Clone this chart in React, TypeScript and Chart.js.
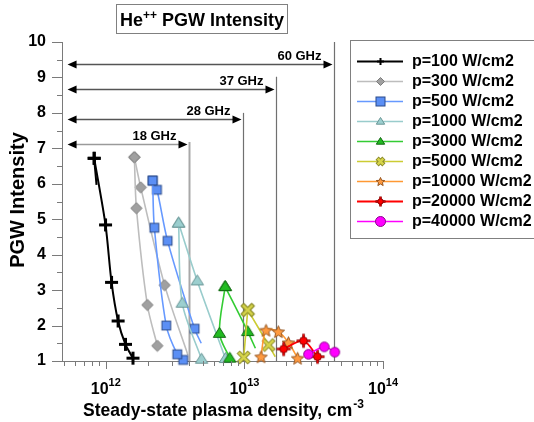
import React, { useEffect, useRef } from 'react';
import { Chart, registerables } from 'chart.js';

Chart.register(...registerables);

// ---------- data (density cm^-3, PGW intensity) in drawing order ----------
const P100_N = [8.57e11, 8.24e11, 9.95e11, 1.10e12, 1.226e12, 1.386e12, 1.571e12];
const P100_I = [5.97, 6.72, 4.84, 3.22, 2.13, 1.47, 1.08];
const P100_APEX = 1;
const P100_BARE = [0];

const P300_N = [2.354e12, 1.995e12, 1.663e12, 1.607e12, 1.786e12, 2.657e12, 3.91e12];
const P300_I = [1.43, 2.58, 5.31, 6.75, 5.90, 3.14, 1.17];
const P300_APEX = 3;
const P300_BARE = [6];

const P500_N = [3.62e12, 3.28e12, 2.73e12, 2.24e12, 2.178e12, 2.339e12, 2.79e12, 4.37e12, 4.88e12];
const P500_I = [1.03, 1.19, 2.0, 4.76, 6.09, 5.83, 4.39, 1.91, 1.50];
const P500_APEX = 4;
const P500_BARE = [8];

const P1000_N = [4.91e12, 3.56e12, 3.35e12, 4.57e12, 7.3e12];
const P1000_I = [1.05, 2.63, 4.89, 3.26, 1.07];
const P1000_APEX = 2;
const P1000_BARE: number[] = [];

const P3000_N = [7.84e12, 6.61e12, 7.26e12, 1.057e13, 1.2e13];
const P3000_I = [1.08, 1.78, 3.10, 1.83, 1.36];
const P3000_APEX = 2;
const P3000_BARE = [4];

const P5000_N = [9.89e12, 1.057e13, 1.496e13, 1.67e13];
const P5000_I = [1.10, 2.44, 1.45, 1.12];
const P5000_APEX = 1;
const P5000_BARE = [3];

const P10000_N = [1.318e13, 1.433e13, 1.757e13, 2.08e13, 2.42e13];
const P10000_I = [1.12, 1.87, 1.83, 1.52, 1.08];
const P10000_APEX = -1;
const P10000_BARE: number[] = [];

const P20000_N = [1.919e13, 2.67e13, 3.37e13];
const P20000_I = [1.34, 1.57, 1.12];
const P20000_APEX = -1;
const P20000_BARE: number[] = [];

const P40000_N = [2.90e13, 3.77e13, 4.49e13];
const P40000_I = [1.19, 1.40, 1.25];
const P40000_APEX = -1;
const P40000_BARE: number[] = [];

const LEGEND_LABELS = [
  'p=100 W/cm2', 'p=300 W/cm2', 'p=500 W/cm2', 'p=1000 W/cm2', 'p=3000 W/cm2',
  'p=5000 W/cm2', 'p=10000 W/cm2', 'p=20000 W/cm2', 'p=40000 W/cm2',
];

// frequency bands: cut-off densities and annotation heights
const BAND_LABELS = ['18 GHz', '28 GHz', '37 GHz', '60 GHz'];
const BAND_DENSITY = [4.0e12, 9.7e12, 1.7e13, 4.46e13];
const BAND_ARROW_Y = [7.11, 7.82, 8.66, 9.39];
const BAND_LINE_TOP = [7.18, 8.0, 9.02, 10];
const ARROW_START = 5.3e11;

const X_MIN = 4.83e11;
const X_MAX = 1e14;
const Y_MIN = 1;
const Y_MAX = 10;
const X_EXPONENTS = [12, 13, 14];

const FONT = '"Liberation Sans", Arial, Helvetica, sans-serif';

type Style = { kind: string; fill: string; stroke: string; r: number; lr: number; line: string; lw: number };

const STYLES: Style[] = [
  { kind: 'plus', fill: '#000', stroke: '#000', r: 6.5, lr: 3.5, line: '#000000', lw: 2 },
  { kind: 'diamond', fill: '#a0a0a0', stroke: '#7c7c7c', r: 5.6, lr: 4, line: '#bdbdbd', lw: 1.6 },
  { kind: 'square', fill: '#5b8ff5', stroke: '#2a4a8a', r: 4.4, lr: 4.5, line: '#6699ff', lw: 1.6 },
  { kind: 'triangle', fill: '#9ccfcf', stroke: '#6a9696', r: 6.2, lr: 4.2, line: '#99cccc', lw: 1.6 },
  { kind: 'triangle', fill: '#22bb22', stroke: '#116611', r: 6.2, lr: 4.2, line: '#33cc33', lw: 1.6 },
  { kind: 'x', fill: '#d6d44a', stroke: '#8a8a2a', r: 6.5, lr: 4, line: '#cccc33', lw: 1.6 },
  { kind: 'star', fill: '#ff9a40', stroke: '#955520', r: 6.5, lr: 4.5, line: '#ff9933', lw: 1.6 },
  { kind: 'spark', fill: '#ff0000', stroke: '#8a0000', r: 7, lr: 5, line: '#ff0000', lw: 1.8 },
  { kind: 'circle', fill: '#ff00ff', stroke: '#8a008a', r: 4.8, lr: 5, line: '#ff00ff', lw: 1.6 },
];

const SERIES = [
  { n: P100_N, i: P100_I, apex: P100_APEX, bare: P100_BARE },
  { n: P300_N, i: P300_I, apex: P300_APEX, bare: P300_BARE },
  { n: P500_N, i: P500_I, apex: P500_APEX, bare: P500_BARE },
  { n: P1000_N, i: P1000_I, apex: P1000_APEX, bare: P1000_BARE },
  { n: P3000_N, i: P3000_I, apex: P3000_APEX, bare: P3000_BARE },
  { n: P5000_N, i: P5000_I, apex: P5000_APEX, bare: P5000_BARE },
  { n: P10000_N, i: P10000_I, apex: P10000_APEX, bare: P10000_BARE },
  { n: P20000_N, i: P20000_I, apex: P20000_APEX, bare: P20000_BARE },
  { n: P40000_N, i: P40000_I, apex: P40000_APEX, bare: P40000_BARE },
];

function makeMarker(kind: string, fill: string, stroke: string, r: number): HTMLCanvasElement {
  const s = Math.ceil(r * 2 + 6) | 1;
  const cv = document.createElement('canvas');
  cv.width = s;
  cv.height = s;
  const g = cv.getContext('2d') as CanvasRenderingContext2D;
  const c = s / 2;
  g.fillStyle = fill;
  g.strokeStyle = stroke;
  g.lineWidth = 1;
  g.lineJoin = 'miter';
  if (kind === 'plus') {
    g.lineWidth = r > 4 ? 3 : 2;
    g.beginPath();
    g.moveTo(c - r, c); g.lineTo(c + r, c);
    g.moveTo(c, c - r); g.lineTo(c, c + r);
    g.stroke();
  } else if (kind === 'diamond') {
    g.beginPath();
    g.moveTo(c, c - r); g.lineTo(c + r, c); g.lineTo(c, c + r); g.lineTo(c - r, c);
    g.closePath(); g.fill(); g.stroke();
  } else if (kind === 'square') {
    g.fillRect(c - r, c - r, 2 * r, 2 * r);
    g.strokeRect(c - r, c - r, 2 * r, 2 * r);
  } else if (kind === 'triangle') {
    const h = r * 1.6;
    g.beginPath();
    g.moveTo(c, c - h * 0.6); g.lineTo(c + r, c + h * 0.4); g.lineTo(c - r, c + h * 0.4);
    g.closePath(); g.fill(); g.stroke();
  } else if (kind === 'x') {
    const d = r * 0.85;
    g.lineCap = 'butt';
    g.lineWidth = 4.4;
    g.beginPath();
    g.moveTo(c - d, c - d); g.lineTo(c + d, c + d);
    g.moveTo(c + d, c - d); g.lineTo(c - d, c + d);
    g.stroke();
    g.strokeStyle = fill;
    g.lineWidth = 2.6;
    g.beginPath();
    g.moveTo(c - d + 0.6, c - d + 0.6); g.lineTo(c + d - 0.6, c + d - 0.6);
    g.moveTo(c + d - 0.6, c - d + 0.6); g.lineTo(c - d + 0.6, c + d - 0.6);
    g.stroke();
  } else if (kind === 'star') {
    g.beginPath();
    for (let k = 0; k < 10; k++) {
      const rad = k % 2 === 0 ? r : r * 0.45;
      const a = -Math.PI / 2 + (k * Math.PI) / 5;
      const px = c + rad * Math.cos(a);
      const py = c + rad * Math.sin(a) + r * 0.1;
      if (k === 0) g.moveTo(px, py); else g.lineTo(px, py);
    }
    g.closePath(); g.fill(); g.stroke();
  } else if (kind === 'spark') {
    g.lineWidth = 2.6;
    g.beginPath();
    g.moveTo(c - r, c); g.lineTo(c + r, c);
    g.moveTo(c, c - r); g.lineTo(c, c + r);
    g.stroke();
    g.strokeStyle = fill;
    g.lineWidth = 1.2;
    g.beginPath();
    g.moveTo(c - r + 0.8, c); g.lineTo(c + r - 0.8, c);
    g.moveTo(c, c - r + 0.8); g.lineTo(c, c + r - 0.8);
    g.stroke();
    g.strokeStyle = stroke;
    g.lineWidth = 1;
    g.beginPath();
    g.arc(c, c, r * 0.55, 0, Math.PI * 2);
    g.fill(); g.stroke();
  } else {
    g.beginPath();
    g.arc(c, c, r, 0, Math.PI * 2);
    g.fill(); g.stroke();
  }
  return cv;
}

function drawHead(ctx: CanvasRenderingContext2D, x: number, y: number, dir: number) {
  ctx.beginPath();
  ctx.moveTo(x, y);
  ctx.lineTo(x - dir * 9, y - 4);
  ctx.lineTo(x - dir * 9, y + 4);
  ctx.closePath();
  ctx.fill();
}

export default function App() {
  const ref = useRef<HTMLCanvasElement | null>(null);

  useEffect(() => {
    const canvas = ref.current;
    if (!canvas) return;

    const plotMarkers = STYLES.map((s) => makeMarker(s.kind, s.fill, s.stroke, s.r));
    const legendMarkers = STYLES.map((s) => makeMarker(s.kind, s.fill, s.stroke, s.lr));

    const datasets: any[] = [];
    SERIES.forEach((s, k) => {
      const st = STYLES[k];
      const pts = s.n.map((x, j) => ({ x, y: s.i[j], j }));
      const branches = s.apex >= 0 ? [pts.slice(0, s.apex + 1), pts.slice(s.apex)] : [pts];
      branches.forEach((br) => {
        datasets.push({
          label: LEGEND_LABELS[k],
          data: br.map((p) => ({ x: p.x, y: p.y })),
          borderColor: st.line,
          borderWidth: st.lw,
          backgroundColor: st.fill,
          pointStyle: plotMarkers[k],
          pointRadius: br.map((p) => (s.bare.includes(p.j) ? 0 : 5)),
          pointHoverRadius: 0,
          tension: 0.3,
          fill: false,
          clip: false,
          order: 100 - k,
        });
      });
    });

    const decor = {
      id: 'decor',
      beforeDatasetsDraw(chart: any) {
        const { ctx } = chart;
        const xs = chart.scales.x;
        const ys = chart.scales.y;
        ctx.save();
        const yb = ys.getPixelForValue(Y_MIN);
        BAND_LABELS.forEach((lab, b) => {
          const px = Math.round(xs.getPixelForValue(BAND_DENSITY[b])) + 0.5;
          const top = ys.getPixelForValue(BAND_LINE_TOP[b]);
          ctx.strokeStyle = b === 0 ? '#a8a8a8' : '#707070';
          ctx.lineWidth = b === 0 ? 2 : 1.2;
          ctx.beginPath();
          ctx.moveTo(px, yb);
          ctx.lineTo(px, top);
          ctx.stroke();
          const ay = Math.round(ys.getPixelForValue(BAND_ARROW_Y[b])) + 0.5;
          const x0 = xs.getPixelForValue(ARROW_START);
          const x1 = px - 2;
          ctx.strokeStyle = b === 0 ? '#9a9a9a' : '#555555';
          ctx.lineWidth = 1.6;
          ctx.beginPath();
          ctx.moveTo(x0 + 6, ay);
          ctx.lineTo(x1 - 6, ay);
          ctx.stroke();
          ctx.fillStyle = '#000';
          drawHead(ctx, x0, ay, -1);
          drawHead(ctx, x1, ay, 1);
          ctx.font = `bold 13px ${FONT}`;
          ctx.textAlign = 'right';
          ctx.textBaseline = 'alphabetic';
          ctx.fillText(lab, px - 13, ay - 5);
        });
        ctx.restore();
      },
      afterDraw(chart: any) {
        const { ctx } = chart;
        const xs = chart.scales.x;
        const ys = chart.scales.y;
        const area = chart.chartArea;
        ctx.save();
        // ticks
        ctx.strokeStyle = '#7a7a7a';
        ctx.lineWidth = 1;
        ctx.beginPath();
        for (let v = Y_MIN; v <= Y_MAX + 1e-9; v += 0.5) {
          const py = Math.round(ys.getPixelForValue(v)) + 0.5;
          const major = Math.abs(v - Math.round(v)) < 1e-6;
          ctx.moveTo(area.left, py);
          ctx.lineTo(area.left - (major ? 10 : 5), py);
        }
        for (let e = 11; e <= 14; e++) {
          for (let m = 1; m <= 9; m++) {
            const v = m * Math.pow(10, e);
            if (v < X_MIN * 0.999 || v > X_MAX * 1.001) continue;
            const px = Math.round(xs.getPixelForValue(v)) + 0.5;
            ctx.moveTo(px, area.bottom);
            ctx.lineTo(px, area.bottom + (m === 1 ? 8 : 5));
          }
        }
        ctx.stroke();

        // x tick labels 10^n
        ctx.fillStyle = '#000';
        ctx.textBaseline = 'alphabetic';
        ctx.textAlign = 'left';
        X_EXPONENTS.forEach((e) => {
          const px = xs.getPixelForValue(Math.pow(10, e));
          ctx.font = `bold 16px ${FONT}`;
          const w1 = ctx.measureText('10').width;
          ctx.font = `bold 11px ${FONT}`;
          const w2 = ctx.measureText(String(e)).width;
          const sx = px - (w1 + w2) / 2;
          ctx.font = `bold 16px ${FONT}`;
          ctx.fillText('10', sx, 394);
          ctx.font = `bold 11px ${FONT}`;
          ctx.fillText(String(e), sx + w1, 386);
        });

        // x title
        const main = 'Steady-state plasma density, cm';
        ctx.font = `bold 17.5px ${FONT}`;
        const wm = ctx.measureText(main).width;
        ctx.font = `bold 12px ${FONT}`;
        const ws = ctx.measureText('-3').width;
        let sx = 223 - (wm + ws) / 2;
        ctx.font = `bold 17.5px ${FONT}`;
        ctx.fillText(main, sx, 416);
        ctx.font = `bold 12px ${FONT}`;
        ctx.fillText('-3', sx + wm + 1, 408);

        // y title
        ctx.save();
        ctx.translate(18, 200);
        ctx.rotate(-Math.PI / 2);
        ctx.textAlign = 'center';
        ctx.textBaseline = 'middle';
        ctx.font = `bold 20px ${FONT}`;
        ctx.fillText('PGW Intensity', 0, 0);
        ctx.restore();

        // chart title in a box
        ctx.strokeStyle = '#808080';
        ctx.lineWidth = 1;
        ctx.strokeRect(116.5, 4.5, 171, 29);
        ctx.font = `bold 18px ${FONT}`;
        const t1 = 'He';
        const t3 = ' PGW Intensity';
        const w1 = ctx.measureText(t1).width;
        const w3 = ctx.measureText(t3).width;
        ctx.font = `bold 12px ${FONT}`;
        const w2 = ctx.measureText('++').width;
        sx = 202 - (w1 + w2 + w3) / 2;
        ctx.textAlign = 'left';
        ctx.font = `bold 18px ${FONT}`;
        ctx.fillText(t1, sx, 26);
        ctx.font = `bold 12px ${FONT}`;
        ctx.fillText('++', sx + w1, 19);
        ctx.font = `bold 18px ${FONT}`;
        ctx.fillText(t3, sx + w1 + w2, 26);

        // legend
        ctx.strokeStyle = '#808080';
        ctx.strokeRect(350.5, 40.5, 200, 198);
        ctx.textBaseline = 'middle';
        ctx.font = `bold 16px ${FONT}`;
        LEGEND_LABELS.forEach((lab, k) => {
          const y = 61 + 20 * k;
          const st = STYLES[k];
          ctx.strokeStyle = st.line;
          ctx.lineWidth = st.lw;
          ctx.beginPath();
          ctx.moveTo(357, y + 0.5);
          ctx.lineTo(403, y + 0.5);
          ctx.stroke();
          const mk = legendMarkers[k];
          ctx.drawImage(mk, Math.round(380 - mk.width / 2), Math.round(y + 0.5 - mk.height / 2));
          ctx.fillStyle = '#000';
          ctx.fillText(lab, 412, y + 1);
        });
        ctx.restore();
      },
    };

    const chart = new Chart(canvas, {
      type: 'line',
      data: { datasets },
      options: {
        animation: false,
        responsive: false,
        events: [],
        layout: { padding: { top: 42, right: 151, left: 0, bottom: 0 } },
        plugins: { legend: { display: false }, tooltip: { enabled: false }, title: { display: false } },
        scales: {
          x: {
            type: 'logarithmic',
            min: X_MIN,
            max: X_MAX,
            grid: { display: false, drawTicks: false },
            border: { display: true, color: '#7a7a7a', width: 1 },
            ticks: { display: false },
            afterFit: (s: any) => { s.height = 61; },
          },
          y: {
            type: 'linear',
            min: Y_MIN,
            max: Y_MAX,
            grid: { display: false, drawTicks: false },
            border: { display: true, color: '#7a7a7a', width: 1 },
            ticks: {
              stepSize: 1,
              padding: 16,
              color: '#000',
              font: { family: FONT, size: 16, weight: 'bold' },
            },
            afterFit: (s: any) => { s.width = 62; },
          },
        },
      } as any,
      plugins: [decor],
    });

    return () => chart.destroy();
  }, []);

  return (
    <div style={{ position: 'fixed', left: 0, top: 0, width: 534, height: 422, background: '#fff' }}>
      <canvas ref={ref} width={534} height={422} style={{ width: 534, height: 422, display: 'block' }} />
    </div>
  );
}
